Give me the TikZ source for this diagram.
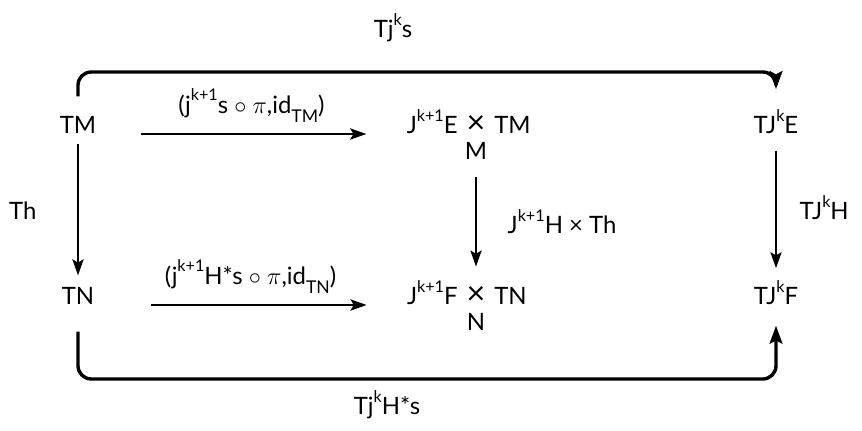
\documentclass[tikz,border=0pt]{standalone}
\usepackage{fontspec}
\setmainfont{Lato}
\usetikzlibrary{arrows.meta,calc}
\newcommand{\up}[1]{\raisebox{0.52em}{\fontsize{11.5}{12}\selectfont #1}}
\newcommand{\dn}[1]{\raisebox{-0.38em}{\fontsize{12.5}{12}\selectfont #1}}
\newcommand{\cross}{\scalebox{1.35}{×}}
\tikzset{ob/.style={anchor=base,inner sep=3pt},
 map/.style={-{Stealth[length=4mm,width=2.8mm,inset=0.8mm]},line width=1.4pt},
 bigmap/.style={-{Stealth[length=4.5mm,width=3.2mm,inset=0.8mm]},line width=2.4pt,rounded corners=3.3mm}}
\begin{document}
\begin{tikzpicture}[x=0.025cm,y=-0.025cm,font=\fontsize{17}{20}\selectfont]
\useasboundingbox (0,0) rectangle (862,431);
% top row
\node[ob](tm) at (78,134){TM};
\node[ob](pe) at (476,134){\cross};
\node[anchor=north,inner sep=1pt,yshift=-1.5pt](pm) at (pe.south){M};
\node[ob,anchor=base east](je) at (pe.base west){J\up{k+1}E};
\node[ob,anchor=base west](me) at (pe.base east){TM};
\node[ob](te) at (776,134){TJ\up{k}E};
% bottom row
\node[ob](tn) at (78,305){TN};
\node[ob](pf) at (476,305){\cross};
\node[anchor=north,inner sep=1pt,yshift=-1.5pt](pn) at (pf.south){N};
\node[ob,anchor=base east](jf) at (pf.base west){J\up{k+1}F};
\node[ob,anchor=base west](nf) at (pf.base east){TN};
\node[ob](tf) at (776,305){TJ\up{k}F};
% maps
\draw[map,shorten <=10mm,shorten >=9mm](tm.base east)--(je.base west)
 node[midway,above=1.5mm]{(j\up{k+1}s $\circ$ $\pi$,id\dn{TM})};
\draw[map,shorten <=13mm,shorten >=9mm](tn.base east)--(jf.base west)
 node[midway,above=1.5mm]{(j\up{k+1}H*s $\circ$ $\pi$,id\dn{TN})};
\draw[map,shorten <=1.5mm,shorten >=2mm](tm)--(tn)node[midway,left=9mm]{Th};
\draw[map,shorten <=4mm,shorten >=4mm](pm)--(pf)node[midway,right=6.5mm]{J\up{k+1}H × Th};
\draw[map,shorten <=3mm,shorten >=2mm](te)--(tf)node[midway,right=4.5mm]{TJ\up{k}H};
% long maps
\coordinate(top) at (0,72);\coordinate(bot) at (0,379);
\draw[bigmap,shorten <=4mm,shorten >=4mm](tm.north)|-(top-|te)--(te.north);
\draw[bigmap,shorten <=5.5mm,shorten >=4mm](tn.south)|-(bot-|tf)--(tf.south);
\node(ts) at (393,28){Tj\up{k}s};
\node(th) at (387,405){Tj\up{k}H*s};
\end{tikzpicture}
\end{document}
